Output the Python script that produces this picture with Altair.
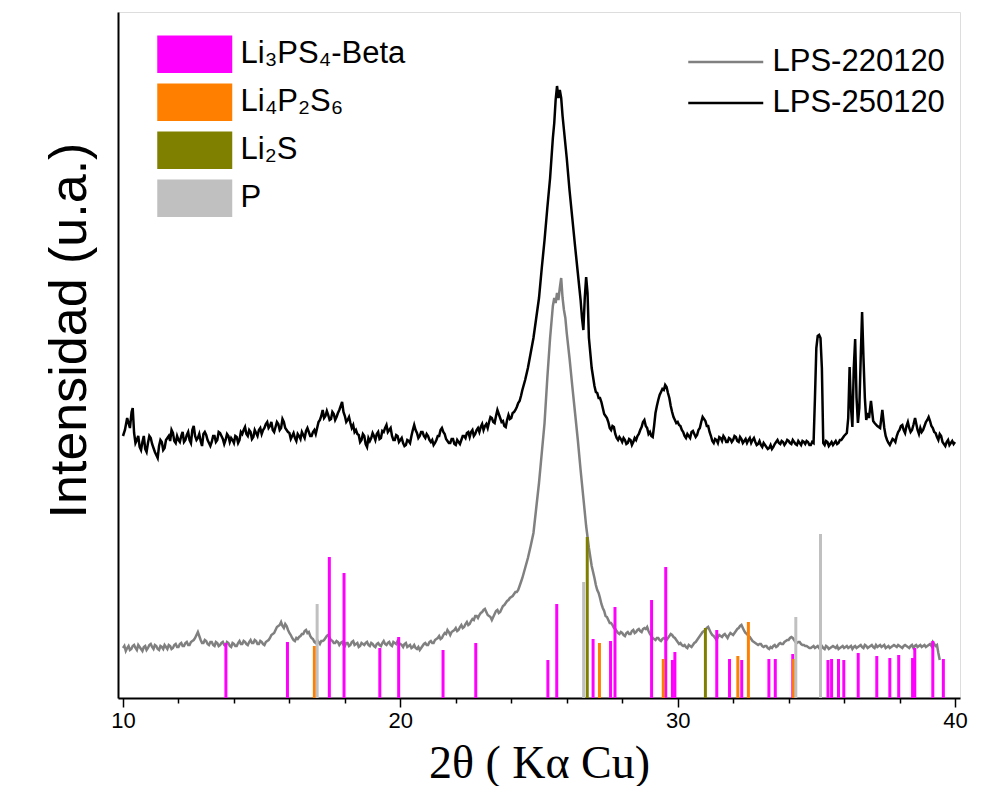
import altair as alt
import pandas as pd

# ---- measured patterns (2theta, intensity in arbitrary units) ----
black_pts = [
    (10.0, 262), (10.07, 268), (10.2, 275), (10.31, 286), (10.4, 265), (10.5, 258), (10.6, 251), (10.7, 256), (10.8, 249), (10.9, 255),
    (11.0, 260), (11.1, 250), (11.2, 243), (11.3, 252), (11.4, 256), (11.5, 250), (11.6, 260), (11.7, 257), (11.8, 265), (11.9, 255),
    (12.0, 258), (12.1, 262), (12.2, 256), (12.3, 263), (12.4, 258), (12.5, 268), (12.6, 262), (12.7, 260), (12.8, 257), (12.9, 264),
    (13.0, 263), (13.1, 255), (13.2, 256), (13.3, 262), (13.4, 258), (13.5, 265), (13.6, 259), (13.7, 258), (13.8, 262), (13.9, 260),
    (14.0, 255), (14.1, 261), (14.2, 258), (14.3, 264), (14.4, 271), (14.5, 262), (14.6, 266), (14.7, 261), (14.8, 265), (14.9, 268),
    (15.0, 264), (15.1, 270), (15.2, 276), (15.3, 272), (15.4, 268), (15.5, 271), (15.6, 274), (15.7, 270), (15.8, 276), (15.9, 268),
    (16.0, 265), (16.1, 262), (16.2, 260), (16.3, 264), (16.4, 259), (16.5, 263), (16.6, 267), (16.7, 266), (16.8, 262), (16.9, 268),
    (17.0, 270), (17.1, 278), (17.2, 288), (17.3, 282), (17.4, 283), (17.5, 279), (17.6, 284), (17.7, 281), (17.8, 288), (17.9, 296),
    (18.0, 282), (18.1, 278), (18.2, 275), (18.3, 273), (18.4, 268), (18.5, 263), (18.6, 258), (18.7, 262), (18.8, 251), (18.9, 257),
    (19.0, 265), (19.1, 258), (19.2, 266), (19.3, 260), (19.4, 266), (19.5, 273), (19.6, 268), (19.7, 262), (19.8, 258), (19.9, 262),
    (20.0, 258), (20.1, 255), (20.2, 253), (20.3, 257), (20.4, 262), (20.5, 273), (20.6, 265), (20.7, 262), (20.8, 266), (20.9, 260),
    (21.0, 262), (21.1, 256), (21.2, 253), (21.3, 258), (21.4, 262), (21.5, 270), (21.6, 264), (21.7, 257), (21.8, 255), (21.9, 259),
    (22.0, 253), (22.1, 256), (22.2, 258), (22.3, 262), (22.4, 265), (22.5, 261), (22.6, 268), (22.7, 264), (22.8, 270), (22.9, 271),
    (23.0, 268), (23.1, 274), (23.2, 276), (23.3, 280), (23.4, 275), (23.5, 288), (23.6, 280), (23.7, 277), (23.8, 271), (23.9, 283),
    (24.0, 280), (24.1, 286), (24.2, 291), (24.3, 297), (24.4, 308), (24.5, 318), (24.6, 330), (24.7, 345), (24.8, 360), (24.9, 380),
    (25.0, 400), (25.1, 430), (25.2, 458), (25.3, 490), (25.4, 520), (25.5, 560), (25.55, 575), (25.6, 598), (25.65, 612), (25.7, 600),
    (25.75, 608), (25.8, 600), (25.85, 582), (25.9, 568), (26.0, 540), (26.1, 508), (26.2, 480), (26.3, 452), (26.4, 425), (26.5, 398),
    (26.55, 380), (26.6, 368), (26.65, 400), (26.7, 421), (26.75, 405), (26.8, 360), (26.9, 330),
    (27.0, 312), (27.1, 305), (27.2, 300), (27.3, 290), (27.4, 282), (27.5, 276), (27.6, 268), (27.7, 271), (27.8, 260), (27.9, 261),
    (28.0, 256), (28.1, 258), (28.2, 255), (28.3, 258), (28.4, 256), (28.5, 258), (28.6, 264), (28.7, 271), (28.8, 278), (28.9, 270),
    (29.0, 266), (29.1, 261), (29.2, 285), (29.3, 298), (29.4, 306), (29.5, 308), (29.6, 311), (29.7, 300), (29.8, 286), (29.9, 278),
    (30.0, 276), (30.1, 272), (30.2, 266), (30.3, 260), (30.4, 262), (30.5, 266), (30.6, 264), (30.7, 263), (30.8, 270), (30.9, 281),
    (31.0, 277), (31.1, 272), (31.2, 262), (31.3, 255), (31.4, 258), (31.5, 261), (31.6, 257), (31.7, 260), (31.8, 256), (31.9, 259),
    (32.0, 258), (32.1, 261), (32.2, 256), (32.3, 259), (32.4, 257), (32.5, 255), (32.6, 260), (32.7, 258), (32.8, 256), (32.9, 254),
    (33.0, 253), (33.1, 255), (33.2, 251), (33.3, 250), (33.4, 249), (33.5, 254), (33.6, 258), (33.7, 254), (33.8, 256), (33.9, 255),
    (34.0, 257), (34.1, 254), (34.2, 256), (34.3, 253), (34.4, 255), (34.5, 257), (34.6, 254), (34.7, 256), (34.8, 253), (34.9, 255),
    (34.95, 300), (35.0, 350), (35.05, 362), (35.1, 363), (35.15, 360), (35.2, 330), (35.25, 255), (35.3, 253), (35.4, 256), (35.5, 254),
    (35.6, 253), (35.7, 257), (35.8, 255), (35.9, 258), (36.0, 262), (36.1, 265), (36.15, 280), (36.2, 331), (36.25, 290), (36.3, 271),
    (36.35, 330), (36.4, 359), (36.45, 300), (36.5, 275), (36.55, 290), (36.6, 340), (36.65, 386), (36.7, 340), (36.75, 300), (36.8, 278),
    (36.85, 285), (36.9, 280), (36.97, 297), (37.05, 277), (37.1, 275), (37.2, 272), (37.3, 270), (37.38, 288), (37.45, 270), (37.5, 262),
    (37.6, 255), (37.7, 256), (37.8, 258), (37.9, 262), (38.0, 268), (38.1, 273), (38.2, 265), (38.3, 276), (38.4, 266), (38.5, 273),
    (38.56, 280), (38.65, 268), (38.7, 264), (38.8, 266), (38.9, 272), (39.0, 278), (39.05, 281), (39.1, 277), (39.2, 270), (39.3, 265),
    (39.4, 258), (39.5, 262), (39.6, 254), (39.7, 256), (39.8, 253), (39.9, 257), (40.0, 256),
]

# extra readings between the main ones (noise of the LPS-250120 trace)
black_fine_pts = [
    (10.15, 280), (10.25, 270), (10.35, 290), (10.45, 255), (10.55, 262), (10.65, 248), (10.75, 262), (10.85, 246), (10.95, 262),
    (11.05, 254), (11.15, 246), (11.25, 240), (11.35, 258), (11.45, 248), (11.55, 258), (11.65, 262), (11.75, 268), (11.85, 257), (11.95, 262),
    (12.05, 256), (12.15, 266), (12.25, 258), (12.35, 266), (12.45, 255), (12.55, 272), (12.65, 258), (12.75, 264), (12.85, 252), (12.95, 266),
    (13.05, 258), (13.15, 252), (13.25, 262), (13.35, 256), (13.45, 266), (13.55, 262), (13.65, 254), (13.75, 264), (13.85, 256), (13.95, 258),
    (14.05, 262), (14.15, 255), (14.25, 266), (14.35, 268), (14.45, 264), (14.55, 268), (14.65, 259), (14.75, 268), (14.85, 262), (14.95, 270),
    (15.05, 268), (15.15, 274), (15.25, 270), (15.35, 276), (15.45, 266), (15.55, 276), (15.65, 268), (15.75, 279), (15.85, 270), (15.95, 266),
    (16.05, 259), (16.15, 265), (16.25, 257), (16.35, 262), (16.45, 266), (16.55, 260), (16.65, 270), (16.75, 262), (16.85, 266), (16.95, 264),
    (17.05, 276), (17.15, 282), (17.25, 280), (17.35, 287), (17.45, 278), (17.55, 286), (17.65, 278), (17.75, 285), (17.85, 292), (17.95, 286),
    (18.05, 276), (18.15, 281), (18.25, 270), (18.35, 266), (18.45, 264), (18.55, 256), (18.65, 264), (18.75, 254), (18.85, 260), (18.95, 260),
    (19.05, 262), (19.15, 264), (19.25, 259), (19.35, 267), (19.45, 270), (19.55, 266), (19.65, 270), (19.75, 258), (19.85, 263), (19.95, 256),
    (20.05, 260), (20.15, 252), (20.25, 258), (20.35, 255), (20.45, 268), (20.55, 268), (20.65, 260), (20.75, 266), (20.85, 262), (20.95, 264),
    (21.05, 258), (21.15, 258), (21.25, 255), (21.35, 262), (21.45, 268), (21.55, 266), (21.65, 259), (21.75, 255), (21.85, 259), (21.95, 254),
    (22.05, 258), (22.15, 254), (22.25, 262), (22.35, 260), (22.45, 266), (22.55, 266), (22.65, 262), (22.75, 268), (22.85, 266), (22.95, 274),
    (23.05, 272), (23.15, 270), (23.25, 281), (23.35, 276), (23.45, 282), (23.55, 284), (23.65, 276), (23.75, 272), (23.85, 278), (23.95, 279),
    (24.05, 285), (24.15, 288), (24.25, 295), (24.35, 302),
    (27.05, 306), (27.15, 300), (27.25, 296), (27.35, 284), (27.45, 280), (27.55, 270), (27.65, 272), (27.75, 264), (27.85, 258), (27.95, 259),
    (28.05, 260), (28.15, 254), (28.25, 259), (28.35, 253), (28.45, 260), (28.55, 262), (28.65, 268), (28.75, 276), (28.85, 272), (28.95, 264),
    (29.05, 262), (29.15, 272), (29.25, 292), (29.35, 303), (29.45, 309), (29.55, 313), (29.65, 305), (29.75, 292), (29.85, 281), (29.95, 275),
    (30.05, 273), (30.15, 268), (30.25, 262), (30.35, 264), (30.45, 260), (30.55, 267), (30.65, 261), (30.75, 268), (30.85, 276), (30.95, 279),
    (31.05, 272), (31.15, 266), (31.25, 257), (31.35, 259), (31.45, 255), (31.55, 260), (31.65, 262), (31.75, 256), (31.85, 260), (31.95, 256),
    (32.05, 262), (32.15, 257), (32.25, 261), (32.35, 255), (32.45, 259), (32.55, 258), (32.65, 255), (32.75, 260), (32.85, 253), (32.95, 257),
    (33.05, 251), (33.15, 253), (33.25, 249), (33.35, 253), (33.45, 251), (33.55, 256), (33.65, 255), (33.75, 257), (33.85, 253), (33.95, 258),
    (34.05, 255), (34.15, 258), (34.25, 254), (34.35, 257), (34.45, 253), (34.55, 256), (34.65, 257), (34.75, 253), (34.85, 256),
    (35.35, 257), (35.45, 252), (35.55, 256), (35.65, 255), (35.75, 254), (35.85, 258), (35.95, 260),
    (37.55, 258), (37.65, 253), (37.75, 259), (37.85, 256), (37.95, 266), (38.05, 272), (38.15, 268), (38.25, 272), (38.35, 270), (38.45, 268),
    (38.75, 270), (38.85, 268), (38.95, 276), (39.15, 272), (39.25, 266), (39.35, 261), (39.45, 264), (39.55, 256), (39.65, 252), (39.75, 258),
    (39.85, 255), (39.95, 254),
]

gray_pts = [
    (10.0, 50), (10.1, 47), (10.2, 52), (10.3, 49), (10.4, 53), (10.5, 48), (10.6, 51), (10.7, 47), (10.8, 52), (10.9, 50),
    (11.0, 54), (11.1, 49), (11.2, 52), (11.3, 48), (11.4, 51), (11.5, 53), (11.6, 49), (11.7, 52), (11.8, 50), (11.9, 54),
    (12.0, 51), (12.1, 55), (12.2, 52), (12.3, 56), (12.4, 53), (12.5, 57), (12.6, 60), (12.7, 66), (12.8, 58), (12.9, 55),
    (13.0, 57), (13.1, 53), (13.2, 56), (13.3, 52), (13.4, 55), (13.5, 53), (13.6, 56), (13.7, 52), (13.8, 55), (13.9, 51),
    (14.0, 54), (14.1, 52), (14.2, 57), (14.3, 54), (14.4, 56), (14.5, 53), (14.6, 58), (14.7, 55), (14.8, 57), (14.9, 54),
    (15.0, 56), (15.1, 53), (15.2, 57), (15.3, 60), (15.4, 64), (15.5, 68), (15.6, 72), (15.7, 76), (15.8, 70), (15.9, 72),
    (16.0, 65), (16.1, 60), (16.2, 57), (16.3, 59), (16.4, 62), (16.5, 64), (16.6, 68), (16.7, 66), (16.8, 60), (16.9, 56),
    (17.0, 58), (17.1, 54), (17.2, 57), (17.3, 60), (17.4, 63), (17.5, 58), (17.6, 55), (17.7, 57), (17.8, 53), (17.9, 56),
    (18.0, 52), (18.1, 55), (18.2, 53), (18.3, 57), (18.4, 54), (18.5, 51), (18.6, 55), (18.7, 53), (18.8, 56), (18.9, 52),
    (19.0, 54), (19.1, 51), (19.2, 55), (19.3, 52), (19.4, 57), (19.5, 53), (19.6, 56), (19.7, 52), (19.8, 55), (19.9, 57),
    (20.0, 54), (20.1, 51), (20.2, 55), (20.3, 52), (20.4, 50), (20.5, 53), (20.6, 49), (20.7, 48), (20.8, 52), (20.9, 55),
    (21.0, 53), (21.1, 57), (21.2, 55), (21.3, 59), (21.4, 62), (21.5, 60), (21.6, 65), (21.7, 68), (21.8, 63), (21.9, 67),
    (22.0, 70), (22.1, 68), (22.2, 73), (22.3, 71), (22.4, 76), (22.5, 74), (22.6, 79), (22.7, 82), (22.8, 80), (22.9, 85),
    (23.0, 88), (23.1, 86), (23.2, 82), (23.3, 78), (23.4, 84), (23.5, 88), (23.6, 86), (23.7, 92), (23.8, 95), (23.9, 98),
    (24.0, 101), (24.1, 104), (24.2, 106), (24.3, 112), (24.4, 120), (24.5, 130), (24.6, 140), (24.7, 152), (24.8, 165), (24.9, 190),
    (25.0, 215), (25.1, 245), (25.2, 275), (25.3, 320), (25.4, 360), (25.5, 392), (25.55, 400), (25.6, 395), (25.65, 405), (25.7, 398),
    (25.75, 410), (25.8, 420), (25.85, 400), (25.9, 388), (25.95, 380), (26.0, 365), (26.1, 340), (26.2, 312), (26.3, 285), (26.4, 258),
    (26.5, 228), (26.6, 200), (26.7, 172), (26.8, 150), (26.9, 132),
    (27.0, 120), (27.1, 108), (27.2, 100), (27.3, 90), (27.4, 82), (27.5, 78), (27.6, 75), (27.7, 70), (27.8, 67), (27.9, 64),
    (28.0, 65), (28.1, 62), (28.2, 66), (28.3, 64), (28.4, 68), (28.5, 66), (28.6, 69), (28.7, 66), (28.8, 70), (28.9, 71),
    (29.0, 64), (29.1, 60), (29.2, 58), (29.3, 60), (29.4, 57), (29.5, 60), (29.6, 58), (29.7, 62), (29.8, 63), (29.9, 60),
    (30.0, 56), (30.1, 55), (30.2, 52), (30.3, 51), (30.4, 53), (30.5, 51), (30.6, 55), (30.7, 58), (30.8, 62), (30.9, 66),
    (31.0, 68), (31.1, 71), (31.2, 65), (31.3, 62), (31.4, 58), (31.5, 63), (31.6, 61), (31.7, 64), (31.8, 60), (31.9, 65),
    (32.0, 63), (32.1, 67), (32.2, 70), (32.3, 73), (32.4, 67), (32.5, 64), (32.6, 61), (32.7, 57), (32.8, 55), (32.9, 53),
    (33.0, 54), (33.1, 51), (33.2, 52), (33.3, 49), (33.4, 50), (33.5, 53), (33.6, 52), (33.7, 55), (33.8, 54), (33.9, 57),
    (34.0, 58), (34.1, 61), (34.2, 58), (34.3, 55), (34.4, 56), (34.5, 53), (34.6, 52), (34.7, 51), (34.8, 50), (34.9, 52),
    (35.0, 51), (35.1, 50), (35.2, 52), (35.3, 49), (35.4, 51), (35.5, 50), (35.6, 52), (35.7, 50), (35.8, 49), (35.9, 51),
    (36.0, 50), (36.1, 52), (36.2, 51), (36.3, 49), (36.4, 52), (36.5, 51), (36.6, 53), (36.7, 50), (36.8, 52), (36.9, 51),
    (37.0, 53), (37.1, 50), (37.2, 51), (37.3, 53), (37.4, 52), (37.5, 50), (37.6, 52), (37.7, 51), (37.8, 53), (37.9, 51),
    (38.0, 52), (38.1, 50), (38.2, 53), (38.3, 51), (38.4, 52), (38.5, 50), (38.6, 53), (38.7, 52), (38.8, 51), (38.9, 53),
    (39.0, 52), (39.1, 54), (39.2, 56), (39.3, 52), (39.35, 53), (39.4, 45), (39.45, 38),
]

# extra readings between the main ones (noise of the LPS-220120 trace)
gray_fine_pts = [
    (10.05, 52), (10.15, 50), (10.25, 48), (10.35, 52), (10.45, 50), (10.55, 53), (10.65, 49), (10.75, 51), (10.85, 48), (10.95, 53),
    (11.05, 51), (11.15, 53), (11.25, 49), (11.35, 52), (11.45, 49), (11.55, 51), (11.65, 53), (11.75, 49), (11.85, 53), (11.95, 51),
    (12.05, 54), (12.15, 52), (12.25, 55), (12.35, 53), (12.45, 56), (12.55, 58), (12.65, 63), (12.75, 62), (12.85, 55), (12.95, 58),
    (13.05, 54), (13.15, 56), (13.25, 53), (13.35, 56), (13.45, 52), (13.55, 55), (13.65, 53), (13.75, 56), (13.85, 52), (13.95, 55),
    (14.05, 52), (14.15, 55), (14.25, 54), (14.35, 57), (14.45, 54), (14.55, 56), (14.65, 55), (14.75, 58), (14.85, 54), (14.95, 57),
    (15.05, 54), (15.15, 56), (15.25, 58), (15.35, 63), (15.45, 65), (15.55, 71), (15.65, 73), (15.75, 72), (15.85, 74), (15.95, 68),
    (16.05, 63), (16.15, 58), (16.25, 60), (16.35, 61), (16.45, 64), (16.55, 67), (16.65, 65), (16.75, 62), (16.85, 59), (16.95, 55),
    (17.05, 56), (17.15, 57), (17.25, 58), (17.35, 62), (17.45, 60), (17.55, 57), (17.65, 55), (17.75, 56), (17.85, 55), (17.95, 53),
    (18.05, 55), (18.15, 52), (18.25, 56), (18.35, 53), (18.45, 55), (18.55, 52), (18.65, 54), (18.75, 55), (18.85, 53), (18.95, 55),
    (19.05, 52), (19.15, 54), (19.25, 53), (19.35, 55), (19.45, 54), (19.55, 55), (19.65, 53), (19.75, 56), (19.85, 54), (19.95, 55),
    (20.05, 53), (20.15, 54), (20.25, 51), (20.35, 53), (20.45, 51), (20.55, 50), (20.65, 51), (20.75, 50), (20.85, 54), (20.95, 53),
    (21.05, 56), (21.15, 55), (21.25, 58), (21.35, 60), (21.45, 59), (21.55, 63), (21.65, 64), (21.75, 66), (21.85, 66), (21.95, 68),
    (22.05, 67), (22.15, 71), (22.25, 70), (22.35, 74), (22.45, 73), (22.55, 77), (22.65, 78), (22.75, 82), (22.85, 83), (22.95, 86),
    (23.05, 89), (23.15, 83), (23.25, 81), (23.35, 81), (23.45, 87), (23.55, 85), (23.65, 89), (23.75, 93), (23.85, 97), (23.95, 100),
    (24.05, 102), (24.15, 106), (24.25, 108), (24.35, 116),
    (27.05, 113), (27.15, 105), (27.25, 94), (27.35, 87), (27.45, 81), (27.55, 75), (27.65, 73), (27.75, 69), (27.85, 65), (27.95, 66),
    (28.05, 63), (28.15, 65), (28.25, 64), (28.35, 67), (28.45, 65), (28.55, 68), (28.65, 67), (28.75, 69), (28.85, 69), (28.95, 67),
    (29.05, 62), (29.15, 59), (29.25, 60), (29.35, 58), (29.45, 59), (29.55, 59), (29.65, 60), (29.75, 64), (29.85, 61), (29.95, 58),
    (30.05, 54), (30.15, 53), (30.25, 53), (30.35, 50), (30.45, 52), (30.55, 53), (30.65, 56), (30.75, 60), (30.85, 64), (30.95, 67),
    (31.05, 70), (31.15, 68), (31.25, 63), (31.35, 60), (31.45, 61), (31.55, 62), (31.65, 63), (31.75, 62), (31.85, 63), (31.95, 64),
    (32.05, 65), (32.15, 69), (32.25, 72), (32.35, 70), (32.45, 65), (32.55, 62), (32.65, 59), (32.75, 56), (32.85, 54), (32.95, 54),
    (33.05, 52), (33.15, 52), (33.25, 50), (33.35, 51), (33.45, 52), (33.55, 51), (33.65, 54), (33.75, 54), (33.85, 56), (33.95, 58),
    (34.05, 60), (34.15, 60), (34.25, 56), (34.35, 56), (34.45, 54), (34.55, 53), (34.65, 52), (34.75, 50), (34.85, 51), (34.95, 50),
    (35.05, 52), (35.15, 51), (35.25, 50), (35.35, 52), (35.45, 49), (35.55, 51), (35.65, 51), (35.75, 52), (35.85, 50), (35.95, 52),
    (36.05, 51), (36.15, 50), (36.25, 52), (36.35, 51), (36.45, 50), (36.55, 52), (36.65, 51), (36.75, 53), (36.85, 50), (36.95, 52),
    (37.05, 51), (37.15, 53), (37.25, 52), (37.35, 51), (37.45, 53), (37.55, 51), (37.65, 50), (37.75, 52), (37.85, 52), (37.95, 53),
    (38.05, 51), (38.15, 52), (38.25, 52), (38.35, 50), (38.45, 53), (38.55, 52), (38.65, 51), (38.75, 53), (38.85, 52), (38.95, 51),
    (39.05, 53), (39.15, 52), (39.25, 54),
]

# ---- reference patterns (stick positions and relative heights) ----
li3ps4_pos = [13.71, 15.93, 17.44, 17.97, 19.26, 19.94, 21.54, 22.72, 25.32, 25.64, 26.95, 27.58, 27.74,
              29.06, 29.57, 29.81, 29.90, 31.41, 31.87, 32.31, 33.29, 33.52, 34.15, 35.42, 35.55, 35.80,
              35.99, 36.51, 37.18, 37.65, 37.97, 38.47, 38.55, 39.20, 39.58]
li3ps4_h = [55, 56, 141, 125, 50, 61, 48, 55, 38, 94, 59, 57, 91,
            98, 131, 38, 46, 68, 39, 38, 39, 39, 44, 38, 39, 39,
            38, 45, 42, 40, 43, 40, 50, 57, 39]
li4p2s6_pos = [16.90, 27.18, 29.48, 32.17, 32.55, 34.18]
li4p2s6_h = [52, 55, 39, 42, 76, 39]
li2s_pos = [26.74, 31.00]
li2s_h = [161, 70]
p_pos = [17.00, 26.61, 34.26, 35.15]
p_h = [94, 116, 81, 164]

phase_names = ["Li₃PS₄-Beta", "Li₄P₂S₆", "Li₂S", "P"]
phase_colors = ["#FF00FF", "#FF8000", "#808000", "#C0C0C0"]
sample_names = ["LPS-220120", "LPS-250120"]
sample_colors = ["#808080", "#000000"]
x_ticks = list(range(10, 41))

# ---- tables ----
line_rows = []
for name, pts in ((sample_names[0], gray_pts + gray_fine_pts),
                  (sample_names[1], black_pts + black_fine_pts)):
    for t, v in pts:
        line_rows.append({"tt": t, "I": v, "sample": name})
lines_df = pd.DataFrame(line_rows).sort_values(["sample", "tt"]).reset_index(drop=True)

stick_rows = []
for name, pos, hs in zip(phase_names, [li3ps4_pos, li4p2s6_pos, li2s_pos, p_pos],
                         [li3ps4_h, li4p2s6_h, li2s_h, p_h]):
    for t, v in zip(pos, hs):
        stick_rows.append({"tt": t, "I": v, "phase": name})
sticks_df = pd.DataFrame(stick_rows)

x_scale = alt.Scale(domain=[10, 40], nice=False, zero=False)
y_scale = alt.Scale(domain=[0, 686], nice=False)

x_axis = alt.Axis(
    values=x_ticks,
    labelExpr="datum.value % 10 === 0 ? datum.label : ''",
    tickSize={"condition": {"test": "datum.value % 10 === 0", "value": 9}, "value": 5},
    tickColor="black", tickWidth=1.5, domainColor="black", domainWidth=2,
    labelFont="Liberation Sans", labelFontSize=22, labelColor="black", labelPadding=3,
    grid=False, title="2θ ( Kα Cu)", titleFont="Liberation Serif", titleFontSize=46,
    titleFontWeight="normal", titleColor="black", titlePadding=10,
)
y_axis = alt.Axis(
    ticks=False, labels=False, grid=False, domainColor="black", domainWidth=2,
    title="Intensidad (u.a.)", titleFont="Liberation Sans", titleFontSize=52,
    titleFontWeight="normal", titleColor="black", titlePadding=22, titleY=318,
)

lines = alt.Chart(lines_df).mark_line(strokeWidth=2.5).encode(
    x=alt.X("tt:Q", scale=x_scale, axis=x_axis),
    y=alt.Y("I:Q", scale=y_scale, axis=y_axis),
    stroke=alt.Stroke(
        "sample:N",
        scale=alt.Scale(domain=sample_names, range=sample_colors),
        legend=alt.Legend(
            orient="none", legendX=587.75, legendY=30, title=None, padding=0,
            symbolType="M-2,0H2", symbolSize=1406, symbolStrokeWidth=2.5,
            labelFont="Liberation Sans", labelFontSize=31, labelColor="black",
            labelOffset=26.75, rowPadding=6, labelLimit=400,
        ),
    ),
    order="tt:Q",
)

sticks = alt.Chart(sticks_df).mark_bar(orient="vertical", size=3).encode(
    x=alt.X("tt:Q", scale=x_scale),
    y=alt.Y("I:Q", scale=y_scale),
    color=alt.Color(
        "phase:N",
        scale=alt.Scale(domain=phase_names, range=phase_colors),
        legend=alt.Legend(
            orient="none", legendX=57.75, legendY=23.25, title=None, padding=0,
            symbolType="M-2,-1H2V1H-2Z", symbolSize=1406, symbolStrokeWidth=0,
            symbolOpacity=1, labelFont="Liberation Sans", labelFontSize=31,
            labelColor="black", labelOffset=26.75, rowPadding=10, labelLimit=400,
        ),
    ),
)

chart = alt.layer(lines, sticks).resolve_scale(color="independent").properties(
    width=842, height=686,
    autosize=alt.AutoSizeParams(type="none"),
    padding={"left": 110, "top": 4, "right": 13, "bottom": 88},
).configure_view(stroke="black", strokeWidth=2).configure(background="white")

chart.save("out.html", embed_options={"renderer": "svg", "actions": False})
